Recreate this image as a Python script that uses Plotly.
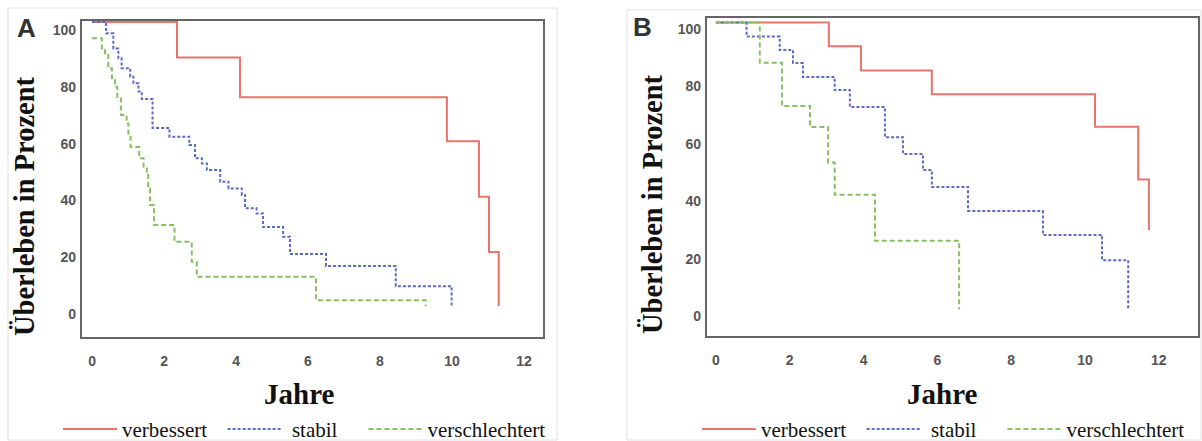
import plotly.graph_objects as go

W, H = 1202, 441

# ---------------- data (years, survival %) ----------------
names = ["verbessert", "stabil", "verschlechtert"]
x_ticks = [0, 2, 4, 6, 8, 10, 12]
y_ticks = [0, 20, 40, 60, 80, 100]

# Panel A
a_verb_t = [0, 2.36, 4.11, 9.86, 10.75, 11.03, 11.3]
a_verb_s = [100, 87.5, 73.5, 58, 38.5, 19, 0]
a_stab_t = [0, 0.39, 0.59, 0.73, 0.82, 1.06, 1.15, 1.29, 1.38, 1.68, 2.15, 2.7, 2.86,
            3.05, 3.19, 3.56, 3.79, 4.16, 4.25, 4.57, 4.75, 5.31, 5.5, 6.5, 8.44, 9.99]
a_stab_s = [100, 96, 90.7, 87.2, 83.7, 80.7, 78.4, 75.5, 72.9, 62.7, 59.6, 56.7, 52,
            50.2, 47.9, 43.8, 41.4, 39.1, 34.4, 32.6, 27.8, 24.4, 18.3, 14.1, 7, 0]
a_vers_t = [0, 0.27, 0.36, 0.45, 0.55, 0.64, 0.7, 0.8, 0.96, 1.01, 1.07, 1.31, 1.43,
            1.52, 1.56, 1.61, 1.72, 2.29, 2.77, 2.91, 6.22, 9.27]
a_vers_s = [94.3, 90.7, 88.4, 83.7, 80.2, 77.2, 73.1, 67.3, 64.3, 60.2, 56, 52, 49,
            46.1, 41.4, 35.6, 28.5, 22.6, 15.6, 10.3, 2, 0]

# Panel B
b_verb_t = [0, 3.06, 3.93, 5.85, 10.27, 11.44, 11.73]
b_verb_s = [100, 91.7, 83.3, 75, 63.7, 45.3, 27.7]
b_stab_t = [0, 0.83, 1.73, 2.09, 2.36, 3.22, 3.63, 4.58, 5.07, 5.61, 5.85, 6.83, 8.86, 10.46, 11.17]
b_stab_s = [100, 95.1, 90.4, 85.9, 81, 76.5, 70.6, 60, 54.2, 48.6, 42.7, 34.3, 26, 17.2, 0]
b_vers_t = [0, 1.19, 1.79, 2.55, 3.04, 3.22, 4.31, 6.59]
b_vers_s = [100, 86, 70.9, 63.6, 51.2, 40, 24, 0]

# ---------------- styles ----------------
colors = ["#e8746c", "#5a6cc0", "#86c062"]
dashes = ["solid", "3px,2px", "5px,3px"]
widths = [2, 2, 2]

fig = go.Figure()

panels = [
    ("x", "y", "legend", [(a_verb_t, a_verb_s), (a_stab_t, a_stab_s), (a_vers_t, a_vers_s)]),
    ("x2", "y2", "legend2", [(b_verb_t, b_verb_s), (b_stab_t, b_stab_s), (b_vers_t, b_vers_s)]),
]
legend_names = [names[0] + "  ", " " + names[1] + "    ", names[2]]
for xa, ya, lg, series in panels:
    for i, (t, s) in enumerate(series):
        fig.add_trace(go.Scatter(
            x=t, y=s, mode="lines", line_shape="hv", name=legend_names[i],
            line=dict(color=colors[i], width=widths[i], dash=dashes[i]),
            xaxis=xa, yaxis=ya, legend=lg, hoverinfo="skip"))

# empty traces so the overlaid tick-label axes get drawn
for xa, ya in [("x", "y3"), ("x2", "y4")]:
    fig.add_trace(go.Scatter(x=[None], y=[None], xaxis=xa, yaxis=ya, showlegend=False,
                             hoverinfo="skip", mode="lines"))


def px_x(v):
    return v / W


def px_y(v):
    return 1 - v / H


tickfont = dict(family="Liberation Sans, Arial", size=14, color="#555", weight="bold")

frame = dict(showline=True, linecolor="#666", linewidth=2, mirror=True,
             showgrid=False, zeroline=False)

layout = dict(
    width=W, height=H, margin=dict(l=0, r=0, t=0, b=0, autoexpand=False),
    paper_bgcolor="white", plot_bgcolor="white",
    # panel A
    xaxis=dict(domain=[px_x(82), px_x(543)], range=[-0.28, 12.53], anchor="y",
               tickvals=x_ticks, ticks="", tickfont=tickfont, ticklabelstandoff=10, **frame),
    yaxis=dict(domain=[px_y(337), px_y(21)], range=[-10.9, 100.35], anchor="x",
               showticklabels=False, ticks="", **frame),
    yaxis3=dict(overlaying="y", anchor="x", side="left", range=[-8.1, 103.2],
                tickvals=y_ticks, ticks="", tickfont=tickfont, ticklabelstandoff=5,
                showline=False, showgrid=False, zeroline=False),
    # panel B
    xaxis2=dict(domain=[px_x(707), px_x(1198)], range=[-0.24, 13.06], anchor="y2",
                tickvals=x_ticks, ticks="", tickfont=tickfont, ticklabelstandoff=10, **frame),
    yaxis2=dict(domain=[px_y(336), px_y(18)], range=[-9.23, 101.57], anchor="x2",
                showticklabels=False, ticks="", **frame),
    yaxis4=dict(overlaying="y2", anchor="x2", side="left", range=[-6.97, 103.83],
                tickvals=y_ticks, ticks="", tickfont=tickfont, ticklabelstandoff=5,
                showline=False, showgrid=False, zeroline=False),
    showlegend=True,
)

legfont = dict(family="Liberation Serif, Times New Roman", size=21, color="#111")
for key, x0 in [("legend", 58), ("legend2", 697)]:
    layout[key] = dict(orientation="h", x=px_x(x0), y=-0.02, xanchor="left", yanchor="bottom",
                       font=legfont, bgcolor="rgba(0,0,0,0)", itemwidth=54,
                       itemclick=False, itemdoubleclick=False)

fig.update_layout(**layout)

titlefont = dict(family="Liberation Serif, Times New Roman", size=28.5, color="#111", weight="bold")
annotations = [
    dict(text="Überleben in Prozent", x=px_x(25), y=px_y(206), textangle=-90, font=titlefont),
    dict(text="Überleben in Prozent", x=px_x(652), y=px_y(204), textangle=-90, font=titlefont),
    dict(text="Jahre", x=px_x(299), y=px_y(394), font=dict(titlefont, size=29)),
    dict(text="Jahre", x=px_x(942), y=px_y(394), font=dict(titlefont, size=29)),
    dict(text="A", x=px_x(26), y=px_y(28), font=dict(family="Liberation Sans, Arial", size=26,
                                                         color="#333", weight="bold")),
    dict(text="B", x=px_x(642), y=px_y(27), font=dict(family="Liberation Sans, Arial", size=26,
                                                          color="#333", weight="bold")),
]
for a in annotations:
    a.update(xref="paper", yref="paper", showarrow=False, xanchor="center", yanchor="middle")
fig.update_layout(annotations=annotations)

shapes = [
    dict(type="rect", x0=px_x(8), x1=px_x(557), y0=px_y(440), y1=px_y(8)),
    dict(type="rect", x0=px_x(627), x1=px_x(1201), y0=px_y(440), y1=px_y(10)),
]
for s in shapes:
    s.update(xref="paper", yref="paper", line=dict(color="#e2e2e2", width=1), layer="below")
fig.update_layout(shapes=shapes)

fig.write_html("out.html", config={"displayModeBar": False},
               post_script="document.body.style.margin='0';")
